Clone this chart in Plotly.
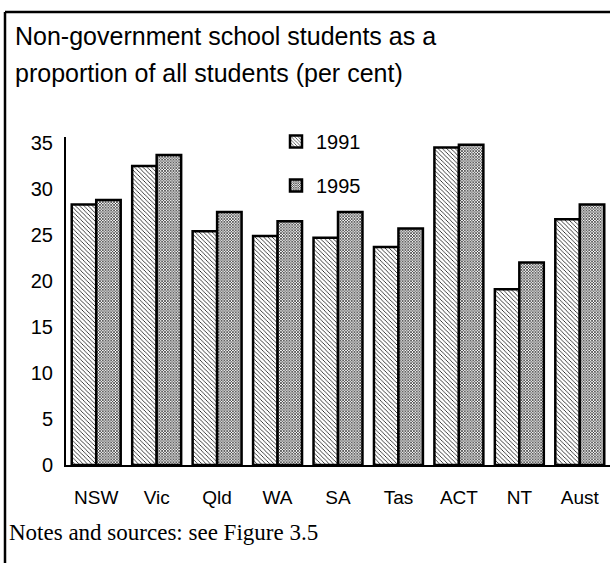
import plotly.graph_objects as go

# Share of students enrolled in non-government schools, by state/territory
states = ["NSW", "Vic", "Qld", "WA", "SA", "Tas", "ACT", "NT", "Aust"]
share_1991 = [28.3, 32.5, 25.4, 24.9, 24.7, 23.7, 34.5, 19.1, 26.7]
share_1995 = [28.8, 33.7, 27.5, 26.5, 27.5, 25.7, 34.8, 22.0, 28.3]
y_ticks = [0, 5, 10, 15, 20, 25, 30, 35]

W, H = 610, 563
L, R, T, B = 66, 0, 137, 98
plot_w = W - L - R
plot_h = H - T - B


def px_x(px):
    return (px - L) / plot_w


def px_y(py):
    return (H - B - py) / plot_h


fig = go.Figure()
fig.add_trace(go.Bar(
    x=states, y=share_1991, name="1991", legendgroup="a",
    marker=dict(color="white", line=dict(color="black", width=2.5),
                pattern=dict(shape="\\", fgcolor="black", bgcolor="white",
                             size=3, solidity=0.25, fillmode="replace")),
))
fig.add_trace(go.Bar(
    x=states, y=share_1995, name="1995", legendgroup="b",
    marker=dict(color="white", line=dict(color="black", width=2.5),
                pattern=dict(shape="x", fgcolor="black", bgcolor="white",
                             size=2, solidity=0.5, fillmode="replace")),
))

font_sans = "Liberation Sans, Arial, sans-serif"

fig.update_layout(
    width=W, height=H,
    margin=dict(l=L, r=R, t=T, b=B, pad=0),
    paper_bgcolor="white", plot_bgcolor="white",
    barmode="group", bargap=0.19, bargroupgap=0,
    font=dict(family=font_sans, size=19, color="black"),
    showlegend=True,
    legend=dict(x=px_x(276), y=px_y(122), xanchor="left", yanchor="top",
                bgcolor="rgba(0,0,0,0)", tracegroupgap=15,
                font=dict(family=font_sans, size=20, color="black")),
    xaxis=dict(showline=True, linecolor="black", linewidth=2, ticks="",
               showgrid=False, ticklabelstandoff=14,
               tickfont=dict(size=19), range=[-0.5, 8.5]),
    yaxis=dict(showline=True, linecolor="black", linewidth=2, ticks="",
               showgrid=False, zeroline=False, range=[0, 35.65],
               tickvals=y_ticks, ticklabelstandoff=7,
               tickfont=dict(size=20)),
)

# Title, two lines
fig.add_annotation(text="Non-government school students as a",
                   xref="paper", yref="paper", x=px_x(13), y=px_y(36),
                   xanchor="left", yanchor="middle", showarrow=False,
                   font=dict(family=font_sans, size=25))
fig.add_annotation(text="proportion of all students (per cent)",
                   xref="paper", yref="paper", x=px_x(13), y=px_y(73),
                   xanchor="left", yanchor="middle", showarrow=False,
                   font=dict(family=font_sans, size=25))

# Footnote
fig.add_annotation(text="Notes and sources: see Figure 3.5",
                   xref="paper", yref="paper", x=px_x(7), y=px_y(532),
                   xanchor="left", yanchor="middle", showarrow=False,
                   font=dict(family="Liberation Serif, Times New Roman, serif", size=23))

# Frame around the figure (left and top edges)
fig.add_shape(type="line", xref="paper", yref="paper",
              x0=px_x(5), x1=px_x(5), y0=px_y(12), y1=px_y(H + 5),
              line=dict(color="black", width=2.5))
fig.add_shape(type="line", xref="paper", yref="paper",
              x0=px_x(5), x1=px_x(W + 5), y0=px_y(12), y1=px_y(12),
              line=dict(color="black", width=2.5))

fig.write_html("out.html")
